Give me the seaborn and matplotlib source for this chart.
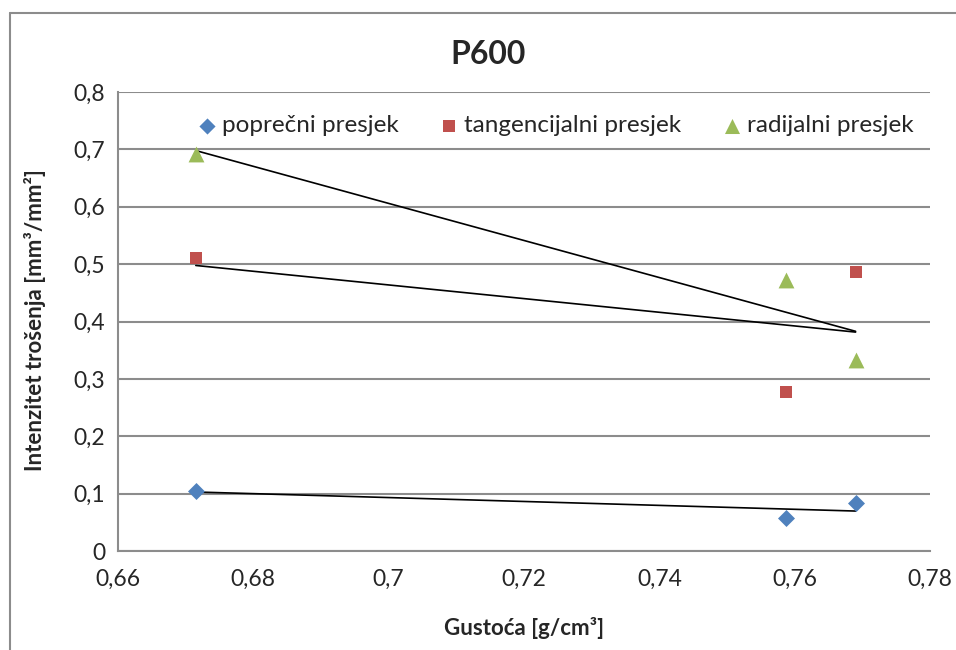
import numpy as np
import pandas as pd
import matplotlib.pyplot as plt
import seaborn as sns
from matplotlib.ticker import FuncFormatter, MultipleLocator
from matplotlib.lines import Line2D

# Data
gustoca = [0.6715, 0.7587, 0.7690]
poprecni = [0.1045, 0.0575, 0.0836]
tangencijalni = [0.510, 0.277, 0.486]
radijalni = [0.692, 0.472, 0.333]

serije = ["poprečni presjek", "tangencijalni presjek", "radijalni presjek"]
boje = ["#4F81BD", "#C0504D", "#9BBB59"]
markeri = ["D", "s", "^"]
velicine = [75, 80, 130]

df = pd.DataFrame({
    "gustoca": gustoca * 3,
    "intenzitet": poprecni + tangencijalni + radijalni,
    "presjek": np.repeat(serije, len(gustoca)),
})

sns.set_style("white")
plt.rcParams["font.family"] = ["Lato", "DejaVu Sans"]

fig = plt.figure(figsize=(9.56, 6.5), dpi=100)
ax = fig.add_axes([118 / 956, 1 - 551 / 650, (930 - 118) / 956, (551 - 92) / 650])

for naziv, boja, marker, s in zip(serije, boje, markeri, velicine):
    d = df[df["presjek"] == naziv]
    # linear trend line (Excel style)
    sns.regplot(data=d, x="gustoca", y="intenzitet", ax=ax, scatter=False,
                ci=None, truncate=True, color="black",
                line_kws={"linewidth": 1.2, "zorder": 2})
    sns.scatterplot(data=d, x="gustoca", y="intenzitet", ax=ax, color=boja,
                    marker=marker, s=s, linewidth=0, label=naziv, zorder=3)

ax.set_xlim(0.66, 0.78)
ax.set_ylim(0, 0.8)
ax.xaxis.set_major_locator(MultipleLocator(0.02))
ax.yaxis.set_major_locator(MultipleLocator(0.1))
fmt = FuncFormatter(lambda v, p: f"{round(v, 4):g}".replace(".", ","))
ax.xaxis.set_major_formatter(fmt)
ax.yaxis.set_major_formatter(fmt)
ax.tick_params(axis="both", length=0, labelsize=16.5, pad=9)
ax.tick_params(axis="x", pad=13)

ax.yaxis.grid(True, color="#8c8c8c", linewidth=1.5)
ax.set_axisbelow(True)
for side in ["top", "right"]:
    ax.spines[side].set_visible(False)
for side in ["left", "bottom"]:
    ax.spines[side].set_color("#8c8c8c")
    ax.spines[side].set_linewidth(1.5)

ax.set_xlabel("")
ax.set_ylabel("")
fig.text(524 / 956, 1 - 628 / 650, "Gustoća [g/cm³]", ha="center", va="center",
         fontsize=16, fontweight="bold")
fig.text(35 / 956, 1 - 320 / 650, "Intenzitet trošenja [mm³/mm²]", ha="center",
         va="center", rotation=90, fontsize=16, fontweight="bold")
fig.text(488 / 956, 1 - 55 / 650, "P600", ha="center", va="center",
         fontsize=23, fontweight="bold")

ax.legend(loc="center", bbox_to_anchor=(0.54, 0.926), ncol=3, frameon=False,
          fontsize=17.5, handlelength=0.6, handletextpad=0.3,
          columnspacing=1.8, markerscale=0.95)

# outer chart border
fig.add_artist(Line2D([10 / 956, 10 / 956], [0, 1 - 13 / 650], color="#8c8c8c",
                      linewidth=1.5, transform=fig.transFigure))
fig.add_artist(Line2D([10 / 956, 1], [1 - 13 / 650, 1 - 13 / 650], color="#8c8c8c",
                      linewidth=1.5, transform=fig.transFigure))

fig.savefig("out.png", dpi=100)
